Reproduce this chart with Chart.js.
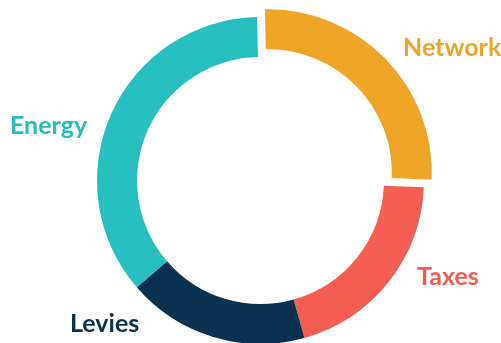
<!DOCTYPE html>
<html>
<head>
<meta charset="utf-8">
<script src="https://cdn.jsdelivr.net/npm/chart.js@4.4.0/dist/chart.umd.min.js"></script>
<style>
  html, body { margin: 0; padding: 0; background: #fff; }
  #wrap { width: 501px; height: 343px; position: relative; }
</style>
</head>
<body>
<div id="wrap"><canvas id="chart"></canvas></div>
<script>
// share of the bill, percent
const categories = ["Network", "Taxes", "Levies", "Energy"];
const values = [26, 20, 18, 36];
const colours = ["#EEA427", "#F35D52", "#0B3150", "#27BEC0"];

// text labels next to the ring (left edge, baseline)
const labelSpots = [[403, 56], [417, 285], [70, 332], [10, 134]];

const ringLabels = {
  id: "ringLabels",
  afterDraw(chart) {
    const ctx = chart.ctx;
    ctx.save();
    ctx.font = "bold 25px Lato";
    ctx.textAlign = "left";
    ctx.textBaseline = "alphabetic";
    categories.forEach((name, i) => {
      ctx.fillStyle = colours[i];
      ctx.fillText(name, labelSpots[i][0], labelSpots[i][1]);
    });
    ctx.restore();
  }
};

new Chart(document.getElementById("chart"), {
  type: "doughnut",
  data: {
    labels: categories,
    datasets: [{
      data: values,
      backgroundColor: colours,
      borderWidth: 0,
      offset: [44, 0, 0, 0]
    }]
  },
  options: {
    responsive: true,
    maintainAspectRatio: false,
    animation: false,
    radius: 163.5,
    cutout: "75.5%",
    rotation: -1.2,
    layout: { padding: { left: 20, right: 0, top: 18, bottom: 0 } },
    plugins: {
      legend: { display: false },
      tooltip: { enabled: false }
    }
  },
  plugins: [ringLabels]
});
</script>
</body>
</html>
